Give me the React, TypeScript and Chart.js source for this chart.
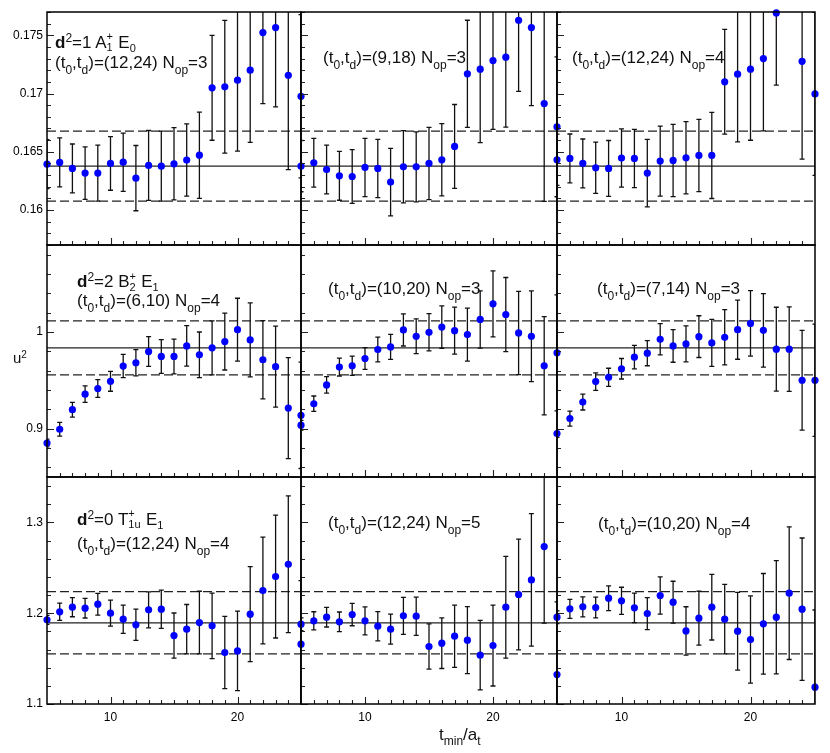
import React, { useEffect, useRef } from 'react';
import { Chart, registerables } from 'chart.js';

Chart.register(...registerables);

// time slices t_min / a_t
const tmin = [5, 6, 7, 8, 9, 10, 11, 12, 13, 14, 15, 16, 17, 18, 19, 20, 21, 22, 23, 24, 25];

// top row: d^2=1 A1+ E0
const a1Val_12_24_n3 = [0.16394, 0.16409, 0.16357, 0.16317, 0.16317, 0.164, 0.16411, 0.16274, 0.16383, 0.16377, 0.16397, 0.16429, 0.16471, 0.17049, 0.17058, 0.17115, 0.17201, 0.17523, 0.17566, 0.17157, 0.16977];
const a1Err_12_24_n3 = [0.0021, 0.0021, 0.0021, 0.00225, 0.0024, 0.0023, 0.0025, 0.0028, 0.003, 0.003, 0.0031, 0.0031, 0.0037, 0.0045, 0.0057, 0.0061, 0.0062, 0.0061, 0.0068, 0.0081, 0.007];
const a1Val_9_18_n3 = [0.16377, 0.16406, 0.16348, 0.16294, 0.16288, 0.16366, 0.16357, 0.1624, 0.16371, 0.16371, 0.164, 0.16431, 0.16546, 0.17169, 0.17209, 0.17283, 0.17312, 0.17629, 0.17566, 0.16914, 0.16714];
const a1Err_9_18_n3 = [0.0022, 0.0021, 0.0021, 0.0021, 0.0023, 0.0025, 0.0025, 0.0029, 0.0031, 0.003, 0.0031, 0.0031, 0.0036, 0.0046, 0.0063, 0.0059, 0.006, 0.0061, 0.0067, 0.0084, 0.006];
const a1Val_12_24_n4 = [0.16431, 0.16443, 0.164, 0.16363, 0.16357, 0.16446, 0.16443, 0.16317, 0.1642, 0.16426, 0.16449, 0.16469, 0.16469, 0.17101, 0.17166, 0.17209, 0.173, 0.17692, null, 0.17277, 0.16997];
const a1Err_12_24_n4 = [0.0022, 0.0021, 0.0021, 0.0022, 0.0024, 0.0025, 0.0025, 0.0029, 0.003, 0.0031, 0.0031, 0.0031, 0.0037, 0.0045, 0.0058, 0.0061, 0.0062, 0.0062, null, 0.0084, 0.007];

// middle row: d^2=2 B2+ E1
const b2Val_6_10_n4 = [0.8851, 0.8994, 0.9196, 0.9357, 0.9415, 0.949, 0.9648, 0.9682, 0.9798, 0.9747, 0.9747, 0.9856, 0.9764, 0.9836, 0.9901, 1.0024, 0.9918, 0.9713, 0.9641, 0.9213, 0.9138];
const b2Err_6_10_n4 = [0.004, 0.0072, 0.0077, 0.0086, 0.0092, 0.0103, 0.0121, 0.0135, 0.0154, 0.0174, 0.018, 0.021, 0.0236, 0.0279, 0.0294, 0.0325, 0.0383, 0.0404, 0.0419, 0.0522, 0.055];
const b2Val_10_20_n3 = [0.9036, 0.9258, 0.9453, 0.9637, 0.9651, 0.9726, 0.9819, 0.9846, 1.0021, 0.9956, 0.9997, 1.0051, 1.0014, 0.9973, 1.013, 1.0291, 1.0181, 0.999, 0.9956, 0.9651, 0.9785];
const b2Err_10_20_n3 = [0.005, 0.008, 0.0086, 0.0092, 0.0099, 0.0113, 0.0128, 0.013, 0.0166, 0.018, 0.0193, 0.0219, 0.0243, 0.0274, 0.0296, 0.0342, 0.0383, 0.0431, 0.0469, 0.0508, 0.06];
const b2Val_7_14_n3 = [0.895, 0.9104, 0.9275, 0.9487, 0.9531, 0.962, 0.974, 0.9781, 0.9925, 0.9856, 0.9877, 0.9952, 0.9887, 0.9945, 1.0024, 1.0089, 1.0017, 0.9822, 0.9822, 0.9501, 0.9501];
const b2Err_7_14_n3 = [0.004, 0.0077, 0.0082, 0.0091, 0.0094, 0.0106, 0.0121, 0.013, 0.0161, 0.0169, 0.0186, 0.0216, 0.0243, 0.0286, 0.0306, 0.0339, 0.0381, 0.0434, 0.0437, 0.0516, 0.058];

// bottom row: d^2=0 T1u+ E1
const t1Val_12_24_n4 = [1.1927, 1.2015, 1.2066, 1.2055, 1.2099, 1.2, 1.1934, 1.1872, 1.2037, 1.2044, 1.1754, 1.1824, 1.1897, 1.1861, 1.1567, 1.1585, 1.1989, 1.225, 1.2404, 1.2539, 1.1659];
const t1Err_12_24_n4 = [0.005, 0.0095, 0.0105, 0.0108, 0.012, 0.0143, 0.0156, 0.0172, 0.0198, 0.0211, 0.0248, 0.0272, 0.0345, 0.0361, 0.0398, 0.0437, 0.0523, 0.0587, 0.0677, 0.0754, 0.07];
const t1Val_12_24_n5 = [1.1879, 1.1916, 1.1956, 1.1905, 1.1985, 1.1916, 1.1857, 1.1824, 1.1971, 1.1967, 1.1633, 1.167, 1.1747, 1.1703, 1.1538, 1.1644, 1.2066, 1.2206, 1.2367, 1.2734, 1.1325];
const t1Err_12_24_n5 = [0.007, 0.01, 0.0108, 0.0108, 0.0123, 0.0154, 0.0161, 0.0165, 0.0204, 0.0211, 0.025, 0.0279, 0.0343, 0.0369, 0.0382, 0.0446, 0.056, 0.061, 0.073, 0.0844, 0.08];
const t1Val_10_20_n4 = [1.1956, 1.2048, 1.207, 1.2062, 1.2165, 1.2136, 1.2059, 1.1996, 1.2195, 1.2121, 1.1805, 1.1945, 1.2066, 1.1934, 1.1802, 1.171, 1.1883, 1.1956, 1.222, 1.2044, 1.1185];
const t1Err_10_20_n4 = [0.007, 0.0105, 0.011, 0.0114, 0.0136, 0.015, 0.0163, 0.0176, 0.0206, 0.0231, 0.0266, 0.0297, 0.0361, 0.0383, 0.0428, 0.048, 0.0554, 0.0624, 0.073, 0.0784, 0.085];

// fit results per row: [central, error]
const fitA1 = [0.16377, 0.003];
const fitB2 = [0.9836, 0.0279];
const fitT1 = [1.1894, 0.0343];

// axis ticks
const xTicks = [10, 20];
const xTickLabels = ['10', '20'];
const yTicksA1 = [0.16, 0.165, 0.17, 0.175];
const yLabelsA1 = ['0.16', '0.165', '0.17', '0.175'];
const yTicksB2 = [0.9, 1];
const yLabelsB2 = ['0.9', '1'];
const yTicksT1 = [1.1, 1.2, 1.3];
const yLabelsT1 = ['1.1', '1.2', '1.3'];

const FONT = '"Liberation Sans", Arial, Helvetica, sans-serif';

// layout of the 3x3 grid (page pixels)
const colL = [47, 301, 557];
const colR = [301, 557, 815];
const rowT = [12, 245, 477];
const rowB = [245, 477, 704];
const PAD_L = 47;
const PAD_R = 12;
const PAD_T = 12;
const PAD_B = 30;

interface RowCfg {
  min: number;
  max: number;
  ticks: number[];
  labels: string[];
  minor: number;
  fit: number[];
}

const rows: RowCfg[] = [
  { min: 0.157, max: 0.177, ticks: yTicksA1, labels: yLabelsA1, minor: 0.001, fit: fitA1 },
  { min: 0.85, max: 1.09, ticks: yTicksB2, labels: yLabelsB2, minor: 0.02, fit: fitB2 },
  { min: 1.1, max: 1.35, ticks: yTicksT1, labels: yLabelsT1, minor: 0.02, fit: fitT1 },
];

interface PanelProps {
  row: number;
  col: number;
  vals: (number | null)[];
  errs: (number | null)[];
}

const Panel: React.FC<PanelProps> = ({ row, col, vals, errs }) => {
  const ref = useRef<HTMLCanvasElement | null>(null);
  const cfg = rows[row];
  const w = colR[col] - colL[col] + PAD_L + PAD_R;
  const h = rowB[row] - rowT[row] + PAD_T + PAD_B;

  useEffect(() => {
    if (!ref.current) return;
    const ctx0 = ref.current.getContext('2d');
    if (!ctx0) return;

    const decor = {
      id: 'decor',
      beforeDatasetsDraw(chart: any) {
        const { ctx, chartArea: a, scales } = chart;
        const xs = scales.x;
        const ys = scales.y;
        ctx.save();
        ctx.beginPath();
        ctx.rect(a.left, a.top, a.right - a.left, a.bottom - a.top);
        ctx.clip();
        // fit band
        ctx.strokeStyle = '#222';
        ctx.lineWidth = 1.3;
        const [c, e] = cfg.fit;
        [c, c + e, c - e].forEach((v, k) => {
          const y = ys.getPixelForValue(v);
          ctx.setLineDash(k === 0 ? [] : [9, 4]);
          ctx.beginPath();
          ctx.moveTo(a.left, y);
          ctx.lineTo(a.right, y);
          ctx.stroke();
        });
        ctx.setLineDash([]);
        // error bars
        ctx.strokeStyle = '#111';
        ctx.lineWidth = 1.3;
        tmin.forEach((t, i) => {
          const v = vals[i];
          const er = errs[i];
          if (v == null || er == null) return;
          const x = xs.getPixelForValue(t);
          const y1 = ys.getPixelForValue(v + er);
          const y2 = ys.getPixelForValue(v - er);
          ctx.beginPath();
          ctx.moveTo(x, y1);
          ctx.lineTo(x, y2);
          ctx.moveTo(x - 2.5, y1);
          ctx.lineTo(x + 2.5, y1);
          ctx.moveTo(x - 2.5, y2);
          ctx.lineTo(x + 2.5, y2);
          ctx.stroke();
        });
        ctx.restore();
      },
      afterDraw(chart: any) {
        const { ctx, chartArea: a, scales } = chart;
        const xs = scales.x;
        const ys = scales.y;
        ctx.save();
        ctx.strokeStyle = '#222';
        ctx.lineWidth = 1.1;
        ctx.beginPath();
        // y ticks (inward)
        const k0 = Math.ceil(cfg.min / cfg.minor - 1e-6);
        const k1 = Math.floor(cfg.max / cfg.minor + 1e-6);
        for (let k = k0; k <= k1; k++) {
          const v = k * cfg.minor;
          const major = cfg.ticks.some((m) => Math.abs(m - v) < cfg.minor / 10);
          const y = Math.round(ys.getPixelForValue(v)) + 0.5;
          ctx.moveTo(a.left, y);
          ctx.lineTo(a.left + (major ? 7 : 4), y);
        }
        // x ticks (inward)
        for (let t = 6; t <= 24; t++) {
          const major = xTicks.includes(t);
          const x = Math.round(xs.getPixelForValue(t)) + 0.5;
          ctx.moveTo(x, a.bottom);
          ctx.lineTo(x, a.bottom - (major ? 7 : 4));
        }
        ctx.stroke();
        // frame
        ctx.strokeStyle = '#000';
        ctx.lineWidth = 1.5;
        ctx.strokeRect(a.left, a.top, a.right - a.left, a.bottom - a.top);
        ctx.restore();
      },
    };

    const points = tmin
      .map((t, i) => ({ x: t, y: vals[i] }))
      .filter((p) => p.y != null) as { x: number; y: number }[];

    const chart = new Chart(ctx0, {
      type: 'scatter',
      data: {
        datasets: [
          {
            data: points,
            backgroundColor: '#0000ff',
            borderWidth: 0,
            pointRadius: 3.6,
            clip: false as any,
          },
        ],
      },
      options: {
        animation: false,
        responsive: false,
        maintainAspectRatio: false,
        events: [],
        layout: { padding: { top: PAD_T, right: PAD_R, left: 0, bottom: 0 } },
        plugins: { legend: { display: false }, tooltip: { enabled: false } },
        scales: {
          x: {
            type: 'linear',
            min: 5,
            max: 25,
            grid: { display: false, drawTicks: false },
            border: { display: false },
            afterBuildTicks: (s: any) => {
              s.ticks = xTicks.map((v) => ({ value: v }));
            },
            afterFit: (s: any) => {
              s.height = PAD_B;
            },
            ticks: {
              display: row === 2,
              autoSkip: false,
              maxRotation: 0,
              padding: 6,
              color: '#000',
              font: { family: FONT, size: 12 },
              callback: (_v: any, i: number) => xTickLabels[i],
            },
          },
          y: {
            type: 'linear',
            min: cfg.min,
            max: cfg.max,
            grid: { display: false, drawTicks: false },
            border: { display: false },
            afterBuildTicks: (s: any) => {
              s.ticks = cfg.ticks.map((v) => ({ value: v }));
            },
            afterFit: (s: any) => {
              s.width = PAD_L;
            },
            ticks: {
              display: col === 0,
              autoSkip: false,
              padding: 4,
              color: '#000',
              font: { family: FONT, size: 12 },
              callback: (_v: any, i: number) => cfg.labels[i],
            },
          },
        },
      },
      plugins: [decor],
    });

    return () => chart.destroy();
  }, [row, col, vals, errs]);

  return (
    <canvas
      ref={ref}
      width={w}
      height={h}
      style={{ position: 'absolute', left: colL[col] - PAD_L, top: rowT[row] - PAD_T, width: w, height: h }}
    />
  );
};

// ---- text helpers ----
const FS = 17;

const Sub: React.FC<{ s?: number; d?: number; children: React.ReactNode }> = ({ s = 12, d = 6.5, children }) => (
  <span style={{ fontSize: s, position: 'relative', top: d }}>{children}</span>
);

const Sup: React.FC<{ s?: number; d?: number; children: React.ReactNode }> = ({ s = 12, d = 6, children }) => (
  <span style={{ fontSize: s, position: 'relative', top: -d }}>{children}</span>
);

const Stack: React.FC<{ sup: string; sub: string; w: number; s?: number }> = ({ sup, sub, w, s = 11 }) => (
  <span style={{ display: 'inline-block', position: 'relative', width: w, height: 0 }}>
    <span style={{ position: 'absolute', left: 0, top: -7 - 0.846 * s, fontSize: s, lineHeight: 1 }}>{sup}</span>
    <span style={{ position: 'absolute', left: 0, top: 4 - 0.846 * s, fontSize: s, lineHeight: 1 }}>{sub}</span>
  </span>
);

const Txt: React.FC<{ x: number; base: number; size?: number; children: React.ReactNode }> = ({ x, base, size = FS, children }) => (
  <div
    style={{
      position: 'absolute',
      left: x,
      top: base - 0.846 * size,
      fontSize: size,
      lineHeight: 1,
      whiteSpace: 'nowrap',
      color: '#111',
    }}
  >
    {children}
  </div>
);

const Td: React.FC<{ a: string; b: string; n: string }> = ({ a, b, n }) => (
  <>
    (t<Sub>0</Sub>,t<Sub>d</Sub>)=({a},{b}) N<Sub>op</Sub>={n}
  </>
);

const App: React.FC = () => {
  return (
    <div
      style={{
        position: 'absolute',
        left: 0,
        top: 0,
        width: 830,
        height: 753,
        background: '#fff',
        fontFamily: FONT,
        overflow: 'hidden',
      }}
    >
      <Panel row={0} col={0} vals={a1Val_12_24_n3} errs={a1Err_12_24_n3} />
      <Panel row={0} col={1} vals={a1Val_9_18_n3} errs={a1Err_9_18_n3} />
      <Panel row={0} col={2} vals={a1Val_12_24_n4} errs={a1Err_12_24_n4} />
      <Panel row={1} col={0} vals={b2Val_6_10_n4} errs={b2Err_6_10_n4} />
      <Panel row={1} col={1} vals={b2Val_10_20_n3} errs={b2Err_10_20_n3} />
      <Panel row={1} col={2} vals={b2Val_7_14_n3} errs={b2Err_7_14_n3} />
      <Panel row={2} col={0} vals={t1Val_12_24_n4} errs={t1Err_12_24_n4} />
      <Panel row={2} col={1} vals={t1Val_12_24_n5} errs={t1Err_12_24_n5} />
      <Panel row={2} col={2} vals={t1Val_10_20_n4} errs={t1Err_10_20_n4} />

      {/* top row */}
      <Txt x={55} base={48}>
        <b>d</b>
        <Sup>2</Sup>=1 A<Stack sup="+" sub="1" w={7} /> E<Sub s={11} d={4}>0</Sub>
      </Txt>
      <Txt x={55} base={68}>
        <Td a="12" b="24" n="3" />
      </Txt>
      <Txt x={323} base={63}>
        <Td a="9" b="18" n="3" />
      </Txt>
      <Txt x={572} base={63}>
        <Td a="12" b="24" n="4" />
      </Txt>

      {/* middle row */}
      <Txt x={77} base={287.5}>
        <b>d</b>
        <Sup>2</Sup>=2 B<Stack sup="+" sub="2" w={7} /> E<Sub s={11} d={4}>1</Sub>
      </Txt>
      <Txt x={77} base={306}>
        <Td a="6" b="10" n="4" />
      </Txt>
      <Txt x={328} base={294}>
        <Td a="10" b="20" n="3" />
      </Txt>
      <Txt x={597} base={294}>
        <Td a="7" b="14" n="3" />
      </Txt>

      {/* bottom row */}
      <Txt x={77} base={525}>
        <b>d</b>
        <Sup>2</Sup>=0 T<Stack sup="+" sub="1u" w={13} /> E<Sub s={11} d={4}>1</Sub>
      </Txt>
      <Txt x={77} base={549}>
        <Td a="12" b="24" n="4" />
      </Txt>
      <Txt x={328} base={528}>
        <Td a="12" b="24" n="5" />
      </Txt>
      <Txt x={598} base={529}>
        <Td a="10" b="20" n="4" />
      </Txt>

      {/* axis titles */}
      <Txt x={13} base={363} size={15}>
        u<Sup s={10} d={5}>2</Sup>
      </Txt>
      <Txt x={439} base={740} size={17}>
        t<Sub s={12} d={5.5}>min</Sub>/a<Sub s={12} d={5.5}>t</Sub>
      </Txt>
    </div>
  );
};

export default App;
